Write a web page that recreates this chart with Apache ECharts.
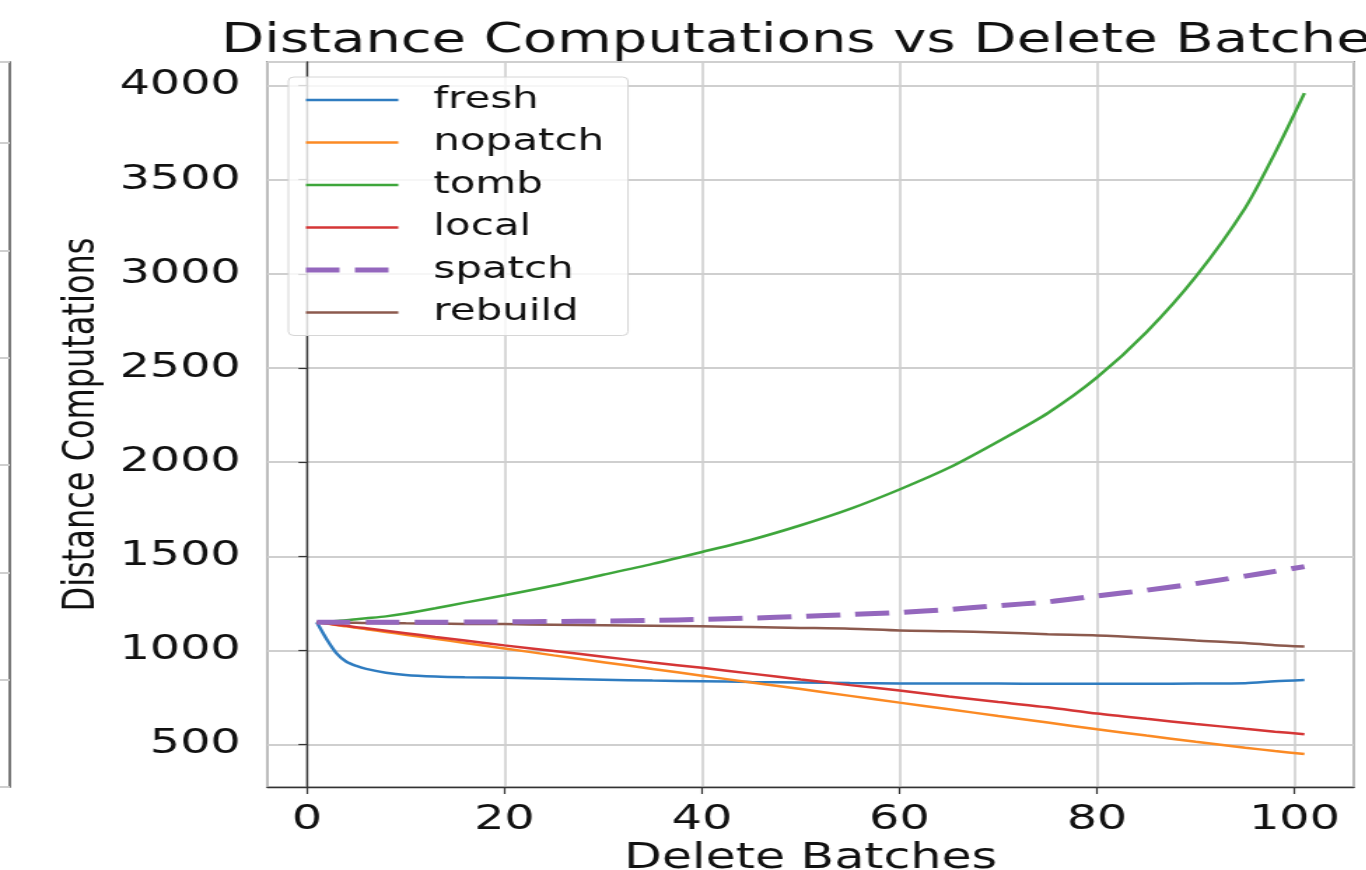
<!DOCTYPE html>
<html>
<head>
<meta charset="utf-8">
<script src="https://cdn.jsdelivr.net/npm/echarts@6/dist/echarts.min.js"></script>
<style>
  html, body { margin: 0; padding: 0; background: #fff; overflow: hidden; }
  /* the reference picture is stretched sideways, so stretch the whole chart the same way */
  #chart { width: 976px; height: 870px; transform: scaleX(1.4); transform-origin: 0 0; }
</style>
</head>
<body>
<div id="chart"></div>
<script>
  var batches = [1, 2, 3, 4, 5, 6, 8, 10, 13, 16, 20, 25, 30, 35, 40, 45, 50, 55, 60, 65, 70, 75, 80, 85, 90, 95, 98, 101];

  var fresh   = [1150, 1060, 985, 940, 918, 902, 882, 870, 862, 858, 855, 850, 845, 840, 837, 833, 830, 827, 825, 824, 824, 823, 823, 823, 824, 826, 836, 843];
  var nopatch = [1150, 1143, 1135, 1128, 1120, 1113, 1098, 1084, 1062, 1040, 1011, 974, 938, 902, 866, 830, 795, 759, 723, 688, 652, 617, 582, 548, 515, 484, 466, 450];
  var tomb    = [1150, 1153, 1157, 1161, 1166, 1171, 1181, 1196, 1224, 1254, 1293, 1345, 1402, 1460, 1523, 1588, 1665, 1752, 1855, 1970, 2110, 2260, 2450, 2690, 2985, 3350, 3640, 3960];
  var local   = [1150, 1144, 1137, 1131, 1124, 1118, 1105, 1092, 1072, 1053, 1027, 997, 967, 936, 908, 877, 846, 816, 787, 756, 726, 698, 665, 637, 610, 584, 569, 555];
  var spatch  = [1150, 1150, 1150, 1150, 1150, 1150, 1150, 1150, 1150, 1151, 1152, 1154, 1156, 1160, 1165, 1172, 1181, 1191, 1202, 1218, 1238, 1258, 1290, 1320, 1355, 1395, 1420, 1445];
  var rebuild = [1150, 1149, 1148, 1147, 1147, 1146, 1145, 1144, 1143, 1141, 1140, 1137, 1134, 1131, 1128, 1124, 1120, 1116, 1106, 1102, 1096, 1086, 1080, 1068, 1053, 1040, 1028, 1021];

  var names  = ['fresh', 'nopatch', 'tomb', 'local', 'spatch', 'rebuild'];
  var values = [fresh, nopatch, tomb, local, spatch, rebuild];
  var colors = ['#2f7cc0', '#fb8a24', '#3ea63b', '#d53636', '#9467bd', '#8c5a4e'];

  var font = 'DejaVu Sans';

  function pairs(ys) {
    return batches.map(function (x, i) { return [x, ys[i]]; });
  }

  var series = names.map(function (name, k) {
    var dashed = name === 'spatch';
    return {
      name: name,
      type: 'line',
      xAxisIndex: 0,
      yAxisIndex: 0,
      data: pairs(values[k]),
      symbol: 'none',
      smooth: 0.25,
      animation: false,
      z: dashed ? 3 : 2,
      lineStyle: {
        color: colors[k],
        width: dashed ? 5 : 2.5,
        type: dashed ? [24, 11] : 'solid'
      },
      itemStyle: { color: colors[k] }
    };
  });

  var plain = function (v) { return String(v); };

  var chart = echarts.init(document.getElementById('chart'));
  chart.setOption({
    backgroundColor: '#fff',
    title: {
      text: 'Distance Computations vs Delete Batches',
      left: 158,
      top: 22,
      padding: 0,
      textStyle: { fontFamily: font, fontSize: 40, fontWeight: 'normal', color: '#111' }
    },
    legend: {
      orient: 'vertical',
      left: 206,
      top: 77,
      padding: [8, 17, 8, 10],
      itemWidth: 66,
      itemHeight: 20,
      itemGap: 12.5,
      backgroundColor: 'rgba(255,255,255,0.8)',
      borderColor: '#d6d6d6',
      borderWidth: 1,
      borderRadius: 4,
      itemStyle: { opacity: 0 },
      lineStyle: { width: 'inherit', type: 'inherit' },
      textStyle: { fontFamily: font, fontSize: 30, color: '#111', lineHeight: 30, padding: [0, 0, 0, 20] },
      data: names
    },
    grid: [
      { left: 191, right: 9, top: 62, bottom: 83, outerBoundsMode: 'none', show: true, borderColor: '#333', borderWidth: 1.3 },
      // edge of the neighbouring subplot, cut off at the left of the picture
      { left: -300, width: 307, top: 62, bottom: 83, outerBoundsMode: 'none', show: true, borderColor: '#333', borderWidth: 1.3 }
    ],
    xAxis: [
      {
        gridIndex: 0,
        type: 'value',
        min: -4,
        max: 106,
        minInterval: 20,
        maxInterval: 20,
        name: 'Delete Batches',
        nameLocation: 'middle',
        nameGap: 49,
        nameTextStyle: { fontFamily: font, fontSize: 35, color: '#111' },
        axisLine: { show: true, lineStyle: { color: '#333', width: 1.3 } },
        axisTick: { show: true, length: 7, lineStyle: { color: '#333', width: 1.2 } },
        axisLabel: { fontFamily: font, fontSize: 34, color: '#111', margin: 16, showMinLabel: false, showMaxLabel: false, formatter: plain },
        splitLine: { show: true, lineStyle: { color: '#cfcfcf', width: 1.6 } }
      },
      { gridIndex: 1, type: 'value', show: false, min: 0, max: 1 }
    ],
    yAxis: [
      {
        gridIndex: 0,
        type: 'value',
        min: 275,
        max: 4125,
        minInterval: 500,
        maxInterval: 500,
        name: 'Distance Computations',
        nameLocation: 'middle',
        nameRotate: 90,
        nameGap: 106,
        nameTextStyle: { fontFamily: font, fontSize: 32, color: '#111' },
        axisLine: { show: true, lineStyle: { color: '#333', width: 1.3 } },
        axisTick: { show: true, length: 6, lineStyle: { color: '#333', width: 1.2 } },
        axisLabel: { fontFamily: font, fontSize: 34, color: '#111', margin: 19, showMinLabel: false, showMaxLabel: false, formatter: plain },
        splitLine: { show: true, lineStyle: { color: '#cfcfcf', width: 2 } }
      },
      {
        gridIndex: 1,
        type: 'value',
        min: 0,
        max: 6.757,
        minInterval: 1,
        maxInterval: 1,
        axisLine: { show: false },
        axisTick: { show: false },
        axisLabel: { show: false },
        splitLine: { show: true, lineStyle: { color: '#cfcfcf', width: 2 } }
      }
    ],
    series: series
  });
</script>
</body>
</html>
